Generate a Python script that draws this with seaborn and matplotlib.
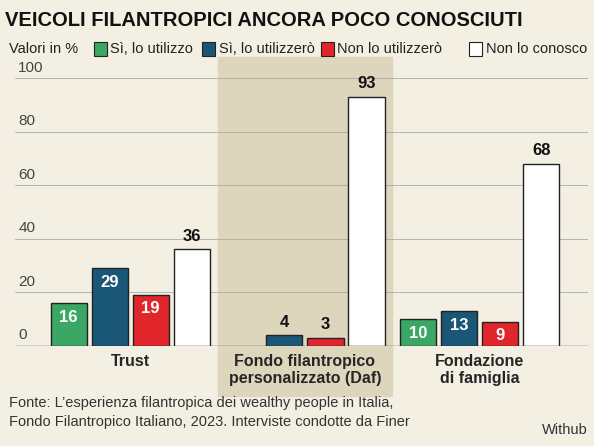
import matplotlib
matplotlib.use("Agg")
import matplotlib.pyplot as plt
import seaborn as sns
import pandas as pd
from matplotlib.patches import Rectangle

categories = ["Trust", "Fondo filantropico\npersonalizzato (Daf)", "Fondazione\ndi famiglia"]
series = ["Sì, lo utilizzo", "Sì, lo utilizzerò", "Non lo utilizzerò", "Non lo conosco"]
values = {
    "Sì, lo utilizzo": [16, 0, 10],
    "Sì, lo utilizzerò": [29, 4, 13],
    "Non lo utilizzerò": [19, 3, 9],
    "Non lo conosco": [36, 93, 68],
}
colors = ["#3aa765", "#1a5776", "#e1262b", "#ffffff"]
bg = "#f3efe3"

rows = []
for s in series:
    for c, v in zip(categories, values[s]):
        rows.append({"cat": c, "serie": s, "val": v})
df = pd.DataFrame(rows)

sns.set_style("white")
plt.rcParams['font.family'] = ['Liberation Sans', 'DejaVu Sans']
fig = plt.figure(figsize=(5.94, 4.46), dpi=100, facecolor=bg)
ax = fig.add_axes([0.025, 0.225, 0.965, 0.60])
ax.set_facecolor("none")

sns.barplot(data=df, x="cat", y="val", hue="serie", palette=colors, ax=ax, saturation=1,
            width=0.94, gap=0.12, edgecolor="#222222", linewidth=1.0, legend=False, zorder=3)
ax.set_ylim(0, 100)
ax.set_xlim(-0.66, 2.62)
ax.add_patch(Rectangle((0.5, -19), 1.0, 127, color="#ddd5bc", zorder=0, clip_on=False))

for i, s in enumerate(series):
    cont = ax.containers[i]
    for bar, v in zip(cont, values[s]):
        if v == 0:
            bar.set_visible(False)
            continue
        h = bar.get_height()
        x = bar.get_x() + bar.get_width() / 2
        if i == 3 or h < 8:
            ax.text(x, h + 2, str(v), ha="center", va="bottom", fontsize=12, fontweight="bold", color="#111", zorder=5)
        else:
            ax.text(x, h - 2.5, str(v), ha="center", va="top", fontsize=12, fontweight="bold", color="white", zorder=5)

for y in range(0, 101, 20):
    ax.axhline(y, color="#555555" if y == 0 else "#aaaaaa", lw=1.0 if y == 0 else 0.6, zorder=1)
    ax.text(-0.64, y + 1.2, str(y), fontsize=11, color="#444", va="bottom", ha="left")
ax.set_yticks([])
ax.set_xlabel(""); ax.set_ylabel("")
ax.tick_params(axis="x", length=0, labelsize=11.5, pad=6)
for t in ax.get_xticklabels():
    t.set_fontweight("bold")
sns.despine(ax=ax, left=True, bottom=True)

fig.text(0.008, 0.955, "VEICOLI FILANTROPICI ANCORA POCO CONOSCIUTI", fontsize=14.5, fontweight="bold", va="center", color="#111")
fig.text(0.015, 0.89, "Valori in %", fontsize=10.5, va="center", color="#222")
lx = [0.158, 0.34, 0.54, 0.79]
for x, s, c in zip(lx, series, colors):
    fig.patches.append(Rectangle((x, 0.875), 0.022, 0.03, transform=fig.transFigure, facecolor=c, edgecolor="#222", lw=0.8))
    fig.text(x + 0.028, 0.89, s, fontsize=10.5, va="center", color="#222")
fig.text(0.015, 0.075, "Fonte: L’esperienza filantropica dei wealthy people in Italia,\nFondo Filantropico Italiano, 2023. Interviste condotte da Finer",
         fontsize=10.5, va="center", color="#333", linespacing=1.4)
fig.text(0.99, 0.035, "Withub", fontsize=10.5, ha="right", va="center", color="#333")
fig.savefig("out.png", dpi=100, facecolor=bg)
